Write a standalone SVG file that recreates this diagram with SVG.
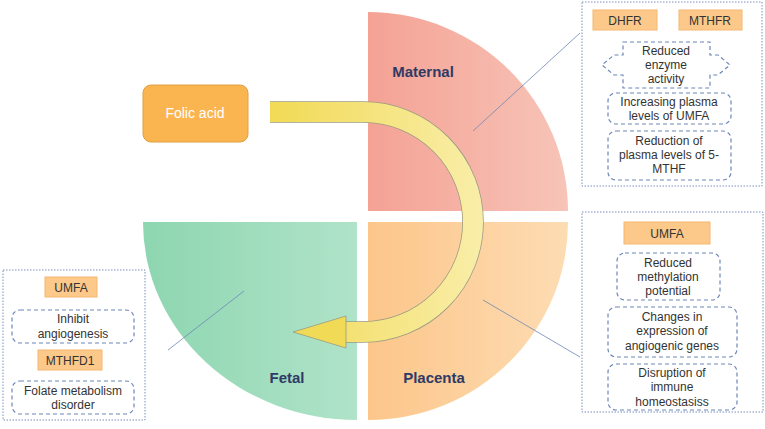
<svg xmlns="http://www.w3.org/2000/svg" width="765" height="429" viewBox="0 0 765 429">
<style>
text{font-family:"Liberation Sans",Arial,sans-serif;font-size:12px;fill:#333;text-anchor:middle}
.lab{font-weight:bold;font-size:15px;fill:#2f3a66}
.panel{fill:#fff;stroke:#7a8fc0;stroke-width:1;stroke-dasharray:1.5 1.5}
.tag{fill:#fcc98a;stroke:#f5b870;stroke-width:1}
.dash{fill:#fff;stroke:#6d86b8;stroke-width:1.2;stroke-dasharray:4 3}
.lead{stroke:#6d86b8;stroke-width:0.8}
</style>
<defs>
<linearGradient id="gm" x1="0" x2="1"><stop offset="0" stop-color="#f4a294"/><stop offset="1" stop-color="#f7c4b8"/></linearGradient>
<linearGradient id="gp" x1="0" x2="1"><stop offset="0" stop-color="#fcc68a"/><stop offset="1" stop-color="#fddcb3"/></linearGradient>
<linearGradient id="gf" x1="0" x2="1"><stop offset="0" stop-color="#8dd6b0"/><stop offset="1" stop-color="#b0e3c9"/></linearGradient>
<linearGradient id="ga" gradientUnits="userSpaceOnUse" x1="270" x2="485"><stop offset="0" stop-color="#f1da55"/><stop offset="1" stop-color="#f9eeaa"/></linearGradient>
</defs>
<g id="maternal"><path d="M368,12 A200,199 0 0 1 568,211 H368 Z" fill="url(#gm)"/><text class="lab" x="423" y="77">Maternal</text></g>
<g id="placenta"><path d="M368,222 H568 A200,198 0 0 1 368,420 Z" fill="url(#gp)"/><text class="lab" x="434" y="383">Placenta</text></g>
<g id="fetal"><path d="M143,222 H357 V420 A214,198 0 0 1 143,222 Z" fill="url(#gf)"/><text class="lab" x="287" y="383">Fetal</text></g>
<g id="connectors">
<path d="M270,112 H363 A110,110 0 0 1 363,332 H340" fill="none" stroke="#9a9a80" stroke-width="21.5"/>
<path d="M270,112 H363 A110,110 0 0 1 363,332 H340" fill="none" stroke="url(#ga)" stroke-width="20"/>
<polygon points="346,316 346,348 293,332" fill="#f1da55" stroke="#9a9a80" stroke-width="0.8"/>
<line class="lead" x1="473" y1="131" x2="580" y2="33"/>
<line class="lead" x1="483" y1="300" x2="580" y2="357"/>
<line class="lead" x1="168" y1="350" x2="244" y2="291"/>
</g>
<g id="folic"><rect x="143" y="85" width="105" height="57" rx="8" fill="#fbb550" stroke="#e0a040"/><text x="195" y="118" style="fill:#fff;font-size:14px">Folic acid</text></g>
<g id="maternal-box">
<rect class="panel" x="582" y="2" width="180" height="184"/>
<rect class="tag" x="593" y="10" width="64" height="20"/><text x="625" y="25">DHFR</text>
<rect class="tag" x="679" y="10" width="63" height="20"/><text x="710" y="25">MTHFR</text>
<path class="dash" d="M623,42 H710 V55 H718 L730,65 L718,75 H710 V88 H623 V75 H614 L602,65 L614,55 H623 Z"/>
<text x="666" y="55">Reduced</text><text x="666" y="69">enzyme</text><text x="666" y="83">activity</text>
<rect class="dash" x="608" y="93" width="123" height="31" rx="8"/><text x="669" y="106">Increasing plasma</text><text x="669" y="120">levels of UMFA</text>
<rect class="dash" x="608" y="131" width="123" height="49" rx="8"/><text x="669" y="145">Reduction of</text><text x="669" y="159">plasma levels of 5-</text><text x="669" y="173">MTHF</text>
</g>
<g id="placenta-box">
<rect class="panel" x="582" y="212" width="181" height="200"/>
<rect class="tag" x="624" y="222" width="86" height="22"/><text x="667" y="238">UMFA</text>
<rect class="dash" x="617" y="253" width="103" height="47" rx="8"/><text x="668" y="267">Reduced</text><text x="668" y="281">methylation</text><text x="668" y="295">potential</text>
<rect class="dash" x="608" y="307" width="129" height="50" rx="8"/><text x="672" y="321">Changes in</text><text x="672" y="335">expression of</text><text x="672" y="350">angiogenic genes</text>
<rect class="dash" x="608" y="364" width="129" height="46" rx="8"/><text x="672" y="377">Disruption of</text><text x="672" y="391">immune</text><text x="672" y="406">homeostasiss</text>
</g>
<g id="fetal-box">
<rect class="panel" x="3" y="270" width="142" height="150"/>
<rect class="tag" x="45" y="277" width="52" height="20"/><text x="71" y="292">UMFA</text>
<rect class="dash" x="12" y="310" width="122" height="33" rx="8"/><text x="73" y="323">Inhibit</text><text x="73" y="338">angiogenesis</text>
<rect class="tag" x="38" y="350" width="64" height="20"/><text x="70" y="365">MTHFD1</text>
<rect class="dash" x="12" y="381" width="122" height="33" rx="8"/><text x="73" y="395">Folate metabolism</text><text x="73" y="409">disorder</text>
</g>
</svg>
